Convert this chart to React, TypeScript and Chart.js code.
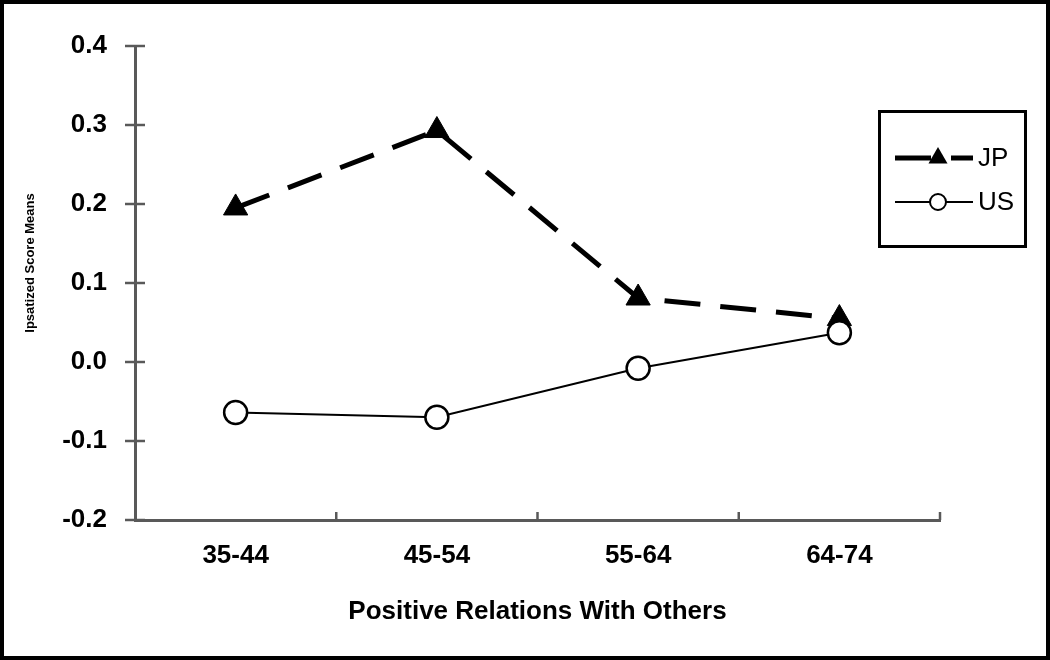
import React, { useEffect, useRef } from "react";
import { Chart, registerables } from "chart.js";

Chart.register(...registerables);

const categories = ["35-44", "45-54", "55-64", "64-74"];
const jpValues = [0.195, 0.293, 0.081, 0.055];
const usValues = [-0.064, -0.07, -0.008, 0.037];
const yMin = -0.2;
const yMax = 0.4;
const yStep = 0.1;
const seriesLabels = ["JP", "US"];
const xTitle = "Positive Relations With Others";
const yTitle = "Ipsatized Score Means";

const FONT = "'Liberation Sans', Arial, sans-serif";
const AXIS_COLOR = "#595959";

const axisTicksPlugin = {
  id: "axisTicks",
  afterDraw(chart: any) {
    const ctx = chart.ctx;
    const x = chart.scales.x;
    const y = chart.scales.y;
    ctx.save();
    ctx.strokeStyle = AXIS_COLOR;
    ctx.lineWidth = 2.5;
    const ax = chart.chartArea.left;
    y.ticks.forEach((t: any) => {
      const py = y.getPixelForValue(t.value);
      ctx.beginPath();
      ctx.moveTo(ax - 10, py);
      ctx.lineTo(ax + 10, py);
      ctx.stroke();
    });
    const ay = chart.chartArea.bottom;
    for (let i = 1; i <= categories.length; i++) {
      const px = x.getPixelForValue(i - 0.5);
      ctx.beginPath();
      ctx.moveTo(px, ay);
      ctx.lineTo(px, ay - 8);
      ctx.stroke();
    }
    ctx.restore();
  },
};

const yTitlePlugin = {
  id: "yTitleCustom",
  afterDraw(chart: any) {
    const ctx = chart.ctx;
    ctx.save();
    ctx.translate(30, 263);
    ctx.rotate(-Math.PI / 2);
    ctx.font = `bold 13px ${FONT}`;
    ctx.fillStyle = "#000";
    ctx.textAlign = "center";
    ctx.textBaseline = "middle";
    ctx.fillText(yTitle, 0, 0);
    ctx.restore();
  },
};

const legendPlugin = {
  id: "boxLegend",
  afterDraw(chart: any) {
    const ctx = chart.ctx;
    ctx.save();
    ctx.strokeStyle = "#000";
    ctx.lineWidth = 3;
    ctx.strokeRect(879.5, 111.5, 146, 135);
    const rows = [158, 202];
    const sampleStart = 895;
    const sampleEnd = 973;
    const markerX = 938;
    seriesLabels.forEach((label, i) => {
      const ds = chart.data.datasets.find((d: any) => d.label === label);
      if (!ds) return;
      const ry = rows[i];
      ctx.beginPath();
      ctx.setLineDash(ds.borderDash || []);
      ctx.lineWidth = ds.borderWidth;
      ctx.strokeStyle = ds.borderColor;
      ctx.moveTo(sampleStart, ry);
      ctx.lineTo(sampleEnd, ry);
      ctx.stroke();
      ctx.setLineDash([]);
      if (ds.pointStyle === "triangle") {
        const r = 11;
        ctx.beginPath();
        ctx.moveTo(markerX, ry - r);
        ctx.lineTo(markerX + r * Math.sin(Math.PI * 2 / 3), ry + r / 2);
        ctx.lineTo(markerX - r * Math.sin(Math.PI * 2 / 3), ry + r / 2);
        ctx.closePath();
        ctx.fillStyle = ds.pointBackgroundColor;
        ctx.fill();
      } else {
        ctx.beginPath();
        ctx.arc(markerX, ry, 8, 0, Math.PI * 2);
        ctx.fillStyle = ds.pointBackgroundColor;
        ctx.fill();
        ctx.lineWidth = 2;
        ctx.strokeStyle = ds.pointBorderColor;
        ctx.stroke();
      }
      ctx.fillStyle = "#000";
      ctx.font = `26px ${FONT}`;
      ctx.textAlign = "left";
      ctx.textBaseline = "middle";
      ctx.fillText(label, 978, ry + 1);
    });
    ctx.restore();
  },
};

export default function App() {
  const canvasRef = useRef<HTMLCanvasElement | null>(null);

  useEffect(() => {
    if (!canvasRef.current) return;
    const chart = new Chart(canvasRef.current, {
      type: "line",
      data: {
        labels: categories,
        datasets: [
          {
            label: seriesLabels[0],
            data: jpValues,
            order: 1,
            borderColor: "#000",
            borderWidth: 5,
            borderDash: [36, 20],
            borderCapStyle: "butt",
            tension: 0,
            fill: false,
            pointStyle: "triangle",
            pointRadius: 14,
            pointBackgroundColor: "#000",
            pointBorderColor: "#000",
            pointBorderWidth: 1,
          } as any,
          {
            label: seriesLabels[1],
            data: usValues,
            order: 0,
            borderColor: "#000",
            borderWidth: 2,
            tension: 0,
            fill: false,
            pointStyle: "circle",
            pointRadius: 11.5,
            pointBackgroundColor: "#fff",
            pointBorderColor: "#000",
            pointBorderWidth: 2.5,
          } as any,
        ],
      },
      options: {
        responsive: false,
        animation: false,
        layout: { padding: { top: 46, right: 110, left: 0, bottom: 0 } },
        plugins: {
          legend: { display: false },
          tooltip: { enabled: false },
          title: { display: false },
        },
        scales: {
          x: {
            type: "category",
            offset: true,
            grid: { display: true, drawOnChartArea: false, drawTicks: false, offset: true, color: "rgba(0,0,0,0)" },
            border: { display: true, color: AXIS_COLOR, width: 3 },
            ticks: {
              color: "#000",
              font: { family: FONT, size: 26, weight: "bold" },
              padding: 20,
            },
            title: {
              display: true,
              text: xTitle,
              color: "#000",
              font: { family: FONT, size: 26, weight: "bold" },
              padding: { top: 0, bottom: 33 },
            },
            afterFit: (scale: any) => {
              scale.height = 140;
            },
          },
          y: {
            min: yMin,
            max: yMax,
            grid: { display: true, drawOnChartArea: false, drawTicks: false, color: "rgba(0,0,0,0)" },
            border: { display: true, color: AXIS_COLOR, width: 3 },
            ticks: {
              stepSize: yStep,
              color: "#000",
              font: { family: FONT, size: 26, weight: "bold" },
              padding: 28,
              callback: (v: any) => Number(v).toFixed(1),
            },
            afterFit: (scale: any) => {
              scale.width = 135;
            },
          },
        },
      } as any,
      plugins: [axisTicksPlugin, yTitlePlugin, legendPlugin],
    });
    return () => chart.destroy();
  }, []);

  return (
    <div style={{ position: "absolute", left: 0, top: 0, width: 1050, height: 660, background: "#fff" }}>
      <canvas ref={canvasRef} width={1050} height={660} style={{ display: "block" }} />
      <div
        style={{
          position: "absolute",
          left: 0,
          top: 0,
          width: 1050,
          height: 660,
          boxSizing: "border-box",
          border: "4px solid #000",
          pointerEvents: "none",
        }}
      />
    </div>
  );
}
